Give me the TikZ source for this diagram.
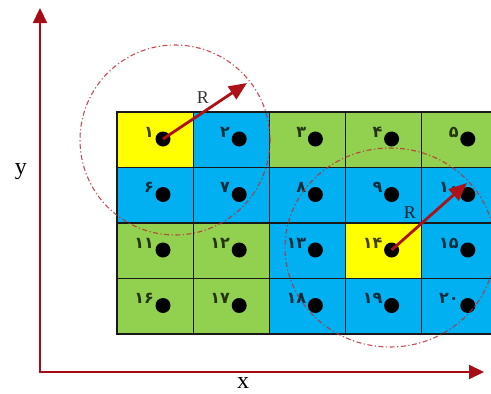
\documentclass[tikz,border=0pt]{standalone}
\usepackage{fontspec}
\setmainfont{Liberation Serif}
\newfontfamily\fa{DejaVu Sans}
\usetikzlibrary{arrows.meta}
\definecolor{cy}{RGB}{255,255,0}
\definecolor{cb}{RGB}{0,176,240}
\definecolor{cg}{RGB}{146,208,80}
\definecolor{ar}{RGB}{172,18,24}
\definecolor{ax}{RGB}{165,12,22}
\definecolor{cc}{RGB}{190,45,55}
\tikzset{
  cell/.style={draw=black!90, line width=1.3pt, minimum width=76.2pt, minimum height=55.5pt, inner sep=0pt, outer sep=0pt},
  dotn/.style={circle, fill=black, inner sep=0pt, minimum size=15pt},
  num/.style={font=\fa\bfseries\fontsize{16}{16}\selectfont, text=black, text opacity=0.75, anchor=east, inner sep=0pt},
  ring/.style={draw=cc, opacity=0.85, line width=1.1pt, dash pattern=on 5pt off 2.5pt on 1.2pt off 2.5pt},
  rarrow/.style={draw=ar, line width=2.8pt, -{Triangle[length=18pt,width=15pt]}},
  axis/.style={draw=ax, line width=2.2pt, {Triangle[length=15pt,width=14pt]}-{Triangle[length=15pt,width=14pt]}},
  axlabel/.style={font=\fontsize{24}{24}\selectfont, inner sep=0pt},
  rlabel/.style={font=\fontsize{18}{18}\selectfont, inner sep=0pt, text=black, text opacity=0.8}
}
\begin{document}
\begin{tikzpicture}[x=1pt,y=-1pt]
\useasboundingbox (0,0) rectangle (491,394);
\clip (0,0) rectangle (491,394);
\foreach \n/\col/\lab in {1/cy/۱,2/cb/۲,3/cg/۳,4/cg/۴,5/cg/۵,
  6/cb/۶,7/cb/۷,8/cb/۸,9/cb/۹,10/cb/۱۰,
  11/cg/۱۱,12/cg/۱۲,13/cb/۱۳,14/cy/۱۴,15/cb/۱۵,
  16/cg/۱۶,17/cg/۱۷,18/cb/۱۸,19/cb/۱۹,20/cb/۲۰}{
  \pgfmathsetmacro\cx{117+76.2*mod(\n-1,5)}
  \pgfmathsetmacro\cy{112+55.5*int((\n-1)/5)}
  \node[cell, fill=\col] (c\n) at (\cx+38.1, \cy+27.75) {};
  \node[dotn] (d\n) at (\cx+46, \cy+27) {};
  \node[num] (n\n) at (\cx+37, \cy+20) {\lab};
}
% neighbourhood rings
\draw[ring] (175,140) circle [radius=95pt];
\draw[ring] (390,247.5) ellipse [x radius=105pt, y radius=99.5pt];
% radius arrows
\coordinate (t1) at (247,83);
\coordinate (t2) at (467,183);
\draw[rarrow] (d1.center) -- (t1);
\draw[rarrow] (d14.center) -- (t2);
\node[rlabel] (r1) at (203,98) {R};
\node[rlabel] (r2) at (410,213) {R};
% axes
\coordinate (yt) at (40,8);
\coordinate (xt) at (484,372);
\draw[axis] (yt) |- (xt);
\node[axlabel] (xl) at (243,383) {x};
\node[axlabel] (yl) at (21,172) {y};
\end{tikzpicture}
\end{document}
